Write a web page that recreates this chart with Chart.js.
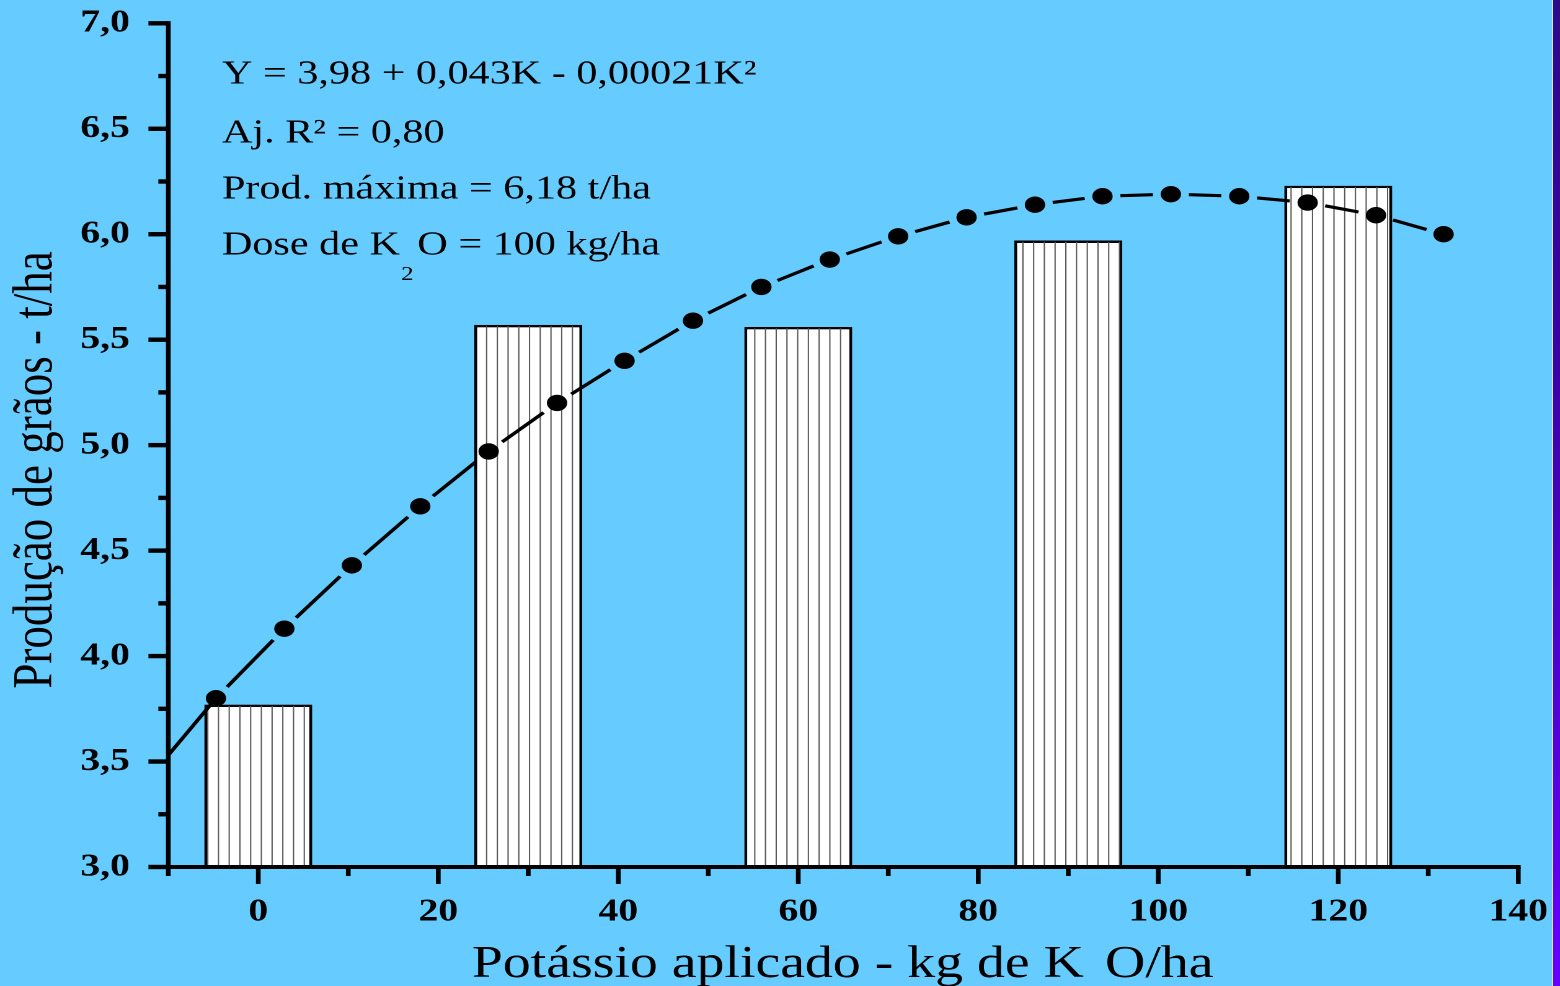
<!DOCTYPE html>
<html lang="pt">
<head>
<meta charset="utf-8">
<title>Produção de grãos x potássio aplicado</title>
<script src="https://cdn.jsdelivr.net/npm/chart.js@4.4.1/dist/chart.umd.min.js"></script>
<style>
  html, body { margin: 0; padding: 0; background: #66ccff; overflow: hidden; }
  /* o gráfico é desenhado mais estreito e esticado na horizontal */
  #quadro { position: absolute; left: 0; top: 0; width: 1258px; height: 986px; transform: scaleX(1.24); transform-origin: 0 0; }
  #borda { position: absolute; top: 0; right: 0; width: 7px; height: 986px; border-left: 1px solid #d6e2ee; background: linear-gradient(#2c0a8c, #3a02a6 35%, #6600ff); }
</style>
</head>
<body>
<div id="quadro"><canvas id="grafico" width="1258" height="986"></canvas></div>
<div id="borda"></div>
<script>
// Doses de K2O (kg/ha) e produção média observada (t/ha)
const doses = [0, 30, 60, 90, 120];
const producao = [3.77, 5.57, 5.56, 5.97, 6.23];

// Pontos da curva ajustada
const dosesCurva = [-10, -4.7, 2.9, 10.4, 18.0, 25.6, 33.2, 40.7, 48.3, 55.9, 63.5,
  71.1, 78.7, 86.3, 93.8, 101.4, 109.0, 116.6, 124.2, 131.7];
const producaoCurva = [3.53, 3.80, 4.13, 4.43, 4.71, 4.97, 5.20, 5.40, 5.59, 5.75, 5.88,
  5.99, 6.08, 6.14, 6.18, 6.19, 6.18, 6.15, 6.09, 6.00];

// Limites e passos dos eixos
const xMin = -10, xMax = 140, xPasso = 20;
const yMin = 3, yMax = 7, yPasso = 0.5;

// Textos
const tituloX = ["Potássio aplicado - kg de K", "2", "O/ha"];
const tituloY = "Produção de grãos - t/ha";
const linhasEquacao = [
  ["Y = 3,98 + 0,043K - 0,00021K²"],
  ["Aj. R² = 0,80"],
  ["Prod. máxima = 6,18 t/ha"],
  ["Dose de K", "2", "O = 100 kg/ha"],
];

const SERIFA = "'Liberation Serif', 'Times New Roman', serif";
const folga = 14.5;        // espaço da linha em volta de cada ponto
const passoHachura = 8.65; // distância entre as listras das barras
const faseHachura = 167.5;

// Traço de cada segmento: some perto dos dois pontos
function tracejado(c) {
  const len = Math.hypot(c.p1.x - c.p0.x, c.p1.y - c.p0.y);
  return [0, folga, Math.max(len - 2 * folga, 0), folga];
}

// Escreve um texto com índice subscrito (K2O)
function textoComIndice(ctx, partes, x, y, tam) {
  ctx.font = tam + "px " + SERIFA;
  ctx.fillText(partes[0], x, y);
  if (partes.length === 1) return;
  const w0 = ctx.measureText(partes[0]).width;
  const tamIndice = Math.round(tam * 0.58);
  ctx.font = tamIndice + "px " + SERIFA;
  ctx.fillText(partes[1], x + w0 + 1, y + tam * 0.75);
  const wi = ctx.measureText(partes[1]).width;
  ctx.font = tam + "px " + SERIFA;
  ctx.fillText(partes[2], x + w0 + wi + 4, y);
}

function larguraComIndice(ctx, partes, tam) {
  ctx.font = tam + "px " + SERIFA;
  let w = ctx.measureText(partes[0]).width + ctx.measureText(partes[2]).width + 4;
  ctx.font = Math.round(tam * 0.58) + "px " + SERIFA;
  return w + ctx.measureText(partes[1]).width + 1;
}

// Listras verticais dentro das barras (antes da curva)
const hachuraPlugin = {
  id: "hachura",
  afterDatasetDraw(chart, args) {
    if (chart.data.datasets[args.index].type !== "bar") return;
    const { ctx, chartArea } = chart;
    ctx.save();
    ctx.fillStyle = "#5a5a5a";
    args.meta.data.forEach((barra) => {
      const { x, y, base, width } = barra.getProps(["x", "y", "base", "width"], true);
      const esq = x - width / 2 + 1.5, dir = x + width / 2 - 1.5;
      const topo = y + 1.2;
      const fundo = Math.min(base, chartArea.bottom);
      const k = Math.ceil((esq - faseHachura) / passoHachura);
      for (let px = faseHachura + k * passoHachura; px < dir - 0.5; px += passoHachura) {
        ctx.fillRect(px - 0.5, topo, 1.05, fundo - topo);
      }
    });
    ctx.restore();
  },
};

// Eixos, marcas, títulos e equação
const eixosPlugin = {
  id: "eixos",
  afterDraw(chart) {
    const { ctx, chartArea, scales } = chart;
    const x = scales.x, y = scales.y;
    const esq = chartArea.left, base = chartArea.bottom;
    ctx.save();
    ctx.fillStyle = "#000";

    // linhas dos eixos
    ctx.fillRect(esq - 1.9, chartArea.top - 2.2, 3.8, base - chartArea.top + 4.2);
    ctx.fillRect(esq, base - 2, chartArea.right - esq + 1.9, 4);

    // marcas do eixo Y (maiores a cada 0,5)
    for (let v = yMin; v <= yMax + 1e-9; v += yPasso / 2) {
      const py = y.getPixelForValue(v);
      const maior = Math.abs(v / yPasso - Math.round(v / yPasso)) < 1e-6;
      const len = maior ? 16 : 8;
      ctx.fillRect(esq - len, py - 2.2, len, 4.4);
    }

    // marcas do eixo X (maiores a cada 20)
    for (let v = xMin; v <= xMax + 1e-9; v += xPasso / 2) {
      const px = x.getPixelForValue(v);
      const len = v % xPasso === 0 ? 17 : 9;
      ctx.fillRect(px - 1.9, base, 3.8, len);
    }

    // títulos dos eixos
    ctx.textBaseline = "alphabetic";
    ctx.textAlign = "left";
    const wX = larguraComIndice(ctx, tituloX, 45);
    textoComIndice(ctx, tituloX, (chartArea.left + chartArea.right) / 2 - wX / 2, 977, 45);

    ctx.save();
    ctx.translate(41.7, 470);
    ctx.rotate(-Math.PI / 2);
    ctx.textAlign = "center";
    ctx.font = "45px " + SERIFA;
    ctx.fillText(tituloY, 0, 0);
    ctx.restore();

    // equação e resultados
    const bases = [83.5, 142.5, 198.5, 254.5];
    linhasEquacao.forEach((linha, i) => {
      textoComIndice(ctx, linha, 179, bases[i], 34);
    });
    ctx.restore();
  },
};

// Zera as folgas que os rótulos pedem ao layout
function semFolga(s) {
  s.paddingTop = 0;
  s.paddingBottom = 0;
  s.paddingLeft = 0;
  s.paddingRight = 0;
}

const ctx = document.getElementById("grafico").getContext("2d");

new Chart(ctx, {
  type: "bar",
  data: {
    datasets: [
      {
        type: "line",
        data: dosesCurva.map((d, i) => ({ x: d, y: producaoCurva[i] })),
        borderColor: "#000",
        borderWidth: 3.2,
        borderCapStyle: "butt",
        tension: 0,
        fill: false,
        pointRadius: (c) => (c.dataIndex === 0 ? 0 : 8.2),
        pointBackgroundColor: "#000",
        pointBorderWidth: 0,
        segment: {
          borderDash: (c) => (c.p0DataIndex === 0 ? undefined : tracejado(c)),
        },
      },
      {
        type: "bar",
        data: doses.map((d, i) => ({ x: d, y: producao[i] })),
        backgroundColor: "#ffffff",
        borderColor: "#000",
        borderWidth: 2.4,
        categoryPercentage: 1,
        barPercentage: 0.6,
      },
    ],
  },
  options: {
    responsive: false,
    animation: false,
    devicePixelRatio: 2,
    events: [],
    layout: { padding: { top: 23.3, right: 33.6, bottom: 0, left: 0 } },
    plugins: {
      legend: { display: false },
      tooltip: { enabled: false },
    },
    scales: {
      x: {
        type: "linear",
        min: xMin,
        max: xMax,
        offset: false,
        grid: { display: false, drawTicks: false },
        border: { display: false },
        ticks: {
          stepSize: xPasso,
          includeBounds: false,
          autoSkip: false,
          maxRotation: 0,
          padding: 26,
          color: "#000",
          font: { family: SERIFA, size: 32, weight: "bold" },
        },
        afterFit: (s) => { s.height = 119; semFolga(s); },
      },
      y: {
        min: yMin,
        max: yMax,
        grid: { display: false, drawTicks: false },
        border: { display: false },
        ticks: {
          stepSize: yPasso,
          padding: 31,
          color: "#000",
          font: { family: SERIFA, size: 32, weight: "bold" },
          callback: (v) => v.toFixed(1).replace(".", ","),
        },
        afterFit: (s) => { s.width = 135.7; semFolga(s); },
      },
    },
  },
  plugins: [hachuraPlugin, eixosPlugin],
});
</script>
</body>
</html>
